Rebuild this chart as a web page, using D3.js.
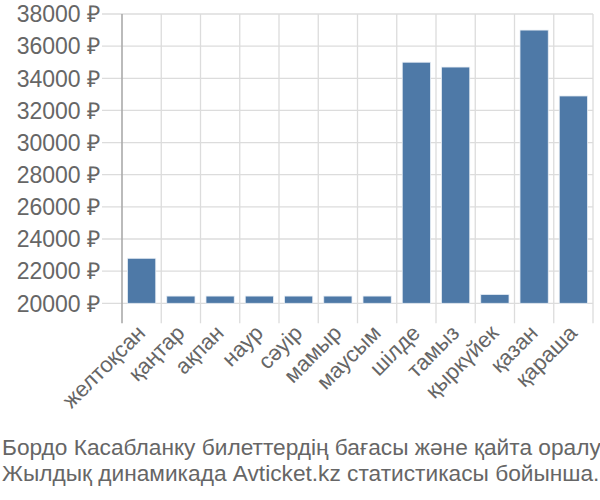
<!DOCTYPE html>
<html><head><meta charset="utf-8">
<script src="https://cdn.jsdelivr.net/npm/d3@7"></script>
<style>body{margin:0;background:#fff}svg{display:block}text{font-family:"Liberation Sans",Arial,sans-serif}</style>
</head><body><svg id="c" width="600" height="500"></svg>
<script>
const categories = ["желтоқсан","қаңтар","ақпан","наур","сәуір","мамыр","маусым","шілде","тамыз","қыркүйек","қазан","қараша"];
const prices = [22800,20450,20450,20450,20450,20450,20450,35000,34700,20550,37000,32900];
const yTicks = [20000,22000,24000,26000,28000,30000,32000,34000,36000,38000];
const captionLines = ["Бордо Касабланку билеттердің бағасы және қайта оралу","Жылдық динамикада Avticket.kz статистикасы бойынша."];

const svg = d3.select("#c");
const pL = 122, pR = 593, pT = 14, pB = 303.3;
const x = d3.scaleBand().domain(categories).range([pL, pR]).paddingInner(0.28).paddingOuter(0.14);
const y = d3.scaleLinear().domain([20000, 38000]).range([pB, pT]);
const step = x.step();
const bandStarts = categories.map((c, i) => pL + i * step);

const g = svg.append("g");
g.selectAll(".hg").data(yTicks).join("line")
  .attr("x1", pL - 20).attr("x2", pR).attr("y1", d => y(d)).attr("y2", d => y(d))
  .attr("stroke", "#dcdcdc").attr("stroke-width", 1.3);
const bounds = bandStarts.concat([pR]);
g.selectAll(".vg").data(bounds).join("line")
  .attr("x1", d => d).attr("x2", d => d).attr("y1", pT).attr("y2", pB + 20)
  .attr("stroke", (d, i) => i === 0 ? "#aaaaaa" : "#dcdcdc").attr("stroke-width", (d,i)=> i===0?1.6:1.3);

g.selectAll(".bar").data(prices).join("rect")
  .attr("x", (d, i) => x(categories[i]))
  .attr("width", x.bandwidth())
  .attr("y", d => y(d))
  .attr("height", d => y(20000) - y(d))
  .attr("fill", "#4e79a7").attr("stroke", "#e8eef5").attr("stroke-width", 0.8);

g.selectAll(".yl").data(yTicks).join("text")
  .attr("x", 100).attr("y", d => y(d)).attr("dy", "0.36em")
  .attr("text-anchor", "end").attr("font-size", 23).attr("fill", "#666")
  .text(d => d + " ₽");

g.selectAll(".xl").data(categories).join("text")
  .attr("transform", d => `translate(${x(d) + x.bandwidth()/2 + 5},${pB + 31}) rotate(-45)`)
  .attr("text-anchor", "end").attr("font-size", 22).attr("fill", "#666")
  .text(d => d);

svg.selectAll(".cap").data(captionLines).join("text")
  .attr("x", 2).attr("y", (d, i) => 455 + i * 26)
  .attr("font-size", 22.7).attr("fill", "#666")
  .text(d => d);
</script></body></html>
